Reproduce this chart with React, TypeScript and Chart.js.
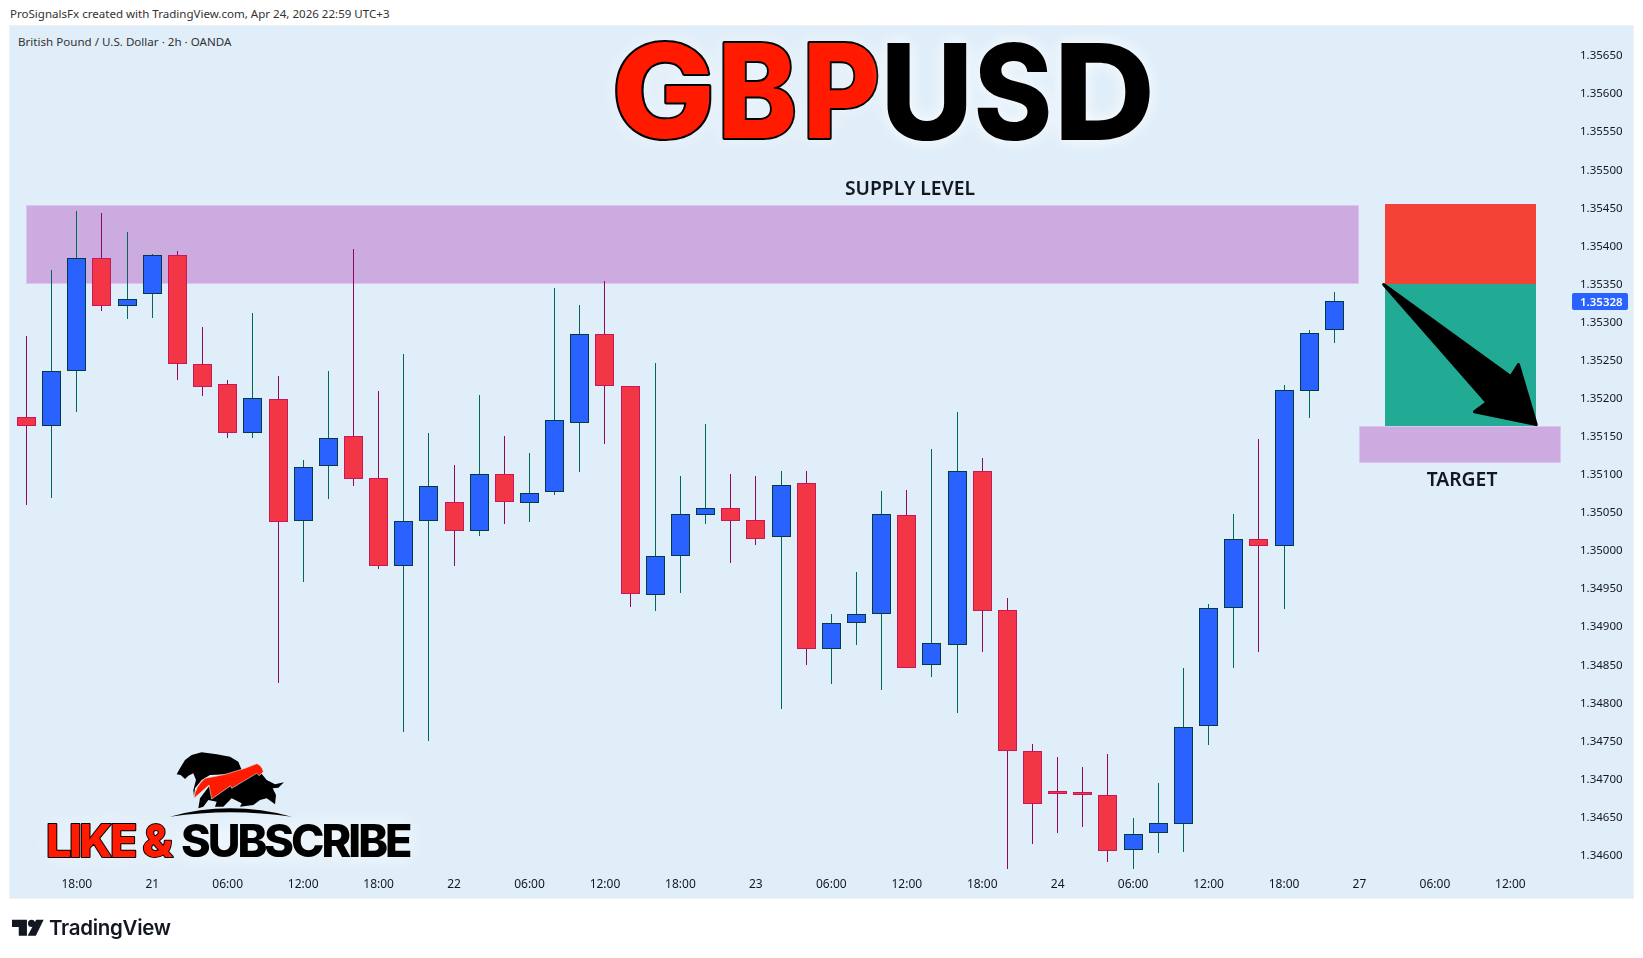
import { useEffect, useRef } from 'react'
import { Chart, registerables } from 'chart.js'
Chart.register(...registerables)

const OPENS = [
  1.35176, 1.35164, 1.35236, 1.35385, 1.35322, 1.35337, 1.35389, 1.35246, 1.35219, 1.35155,
  1.35199, 1.35039, 1.35112, 1.35151, 1.35096, 1.34980, 1.35039, 1.35064, 1.35026, 1.35101,
  1.35063, 1.35077, 1.35168, 1.35285, 1.35217, 1.34942, 1.34993, 1.35047, 1.35056, 1.35041,
  1.35018, 1.35089, 1.34871, 1.34906, 1.34918, 1.35047, 1.34850, 1.34877, 1.35105, 1.34922,
  1.34737, 1.34685, 1.34683, 1.34680, 1.34607, 1.34630, 1.34642, 1.34770, 1.34925, 1.35016,
  1.35006, 1.35210, 1.35290,
]
const HIGHS = [
  1.35282, 1.35369, 1.35447, 1.35444, 1.35419, 1.35390, 1.35394, 1.35294, 1.35224, 1.35312,
  1.35230, 1.35119, 1.35236, 1.35397, 1.35210, 1.35259, 1.35155, 1.35113, 1.35205, 1.35151,
  1.35129, 1.35346, 1.35323, 1.35354, 1.35217, 1.35247, 1.35099, 1.35167, 1.35101, 1.35099,
  1.35105, 1.35105, 1.34917, 1.34972, 1.35079, 1.35080, 1.35134, 1.35183, 1.35122, 1.34938,
  1.34747, 1.34730, 1.34716, 1.34734, 1.34649, 1.34695, 1.34846, 1.34930, 1.35049, 1.35147,
  1.35218, 1.35290, 1.35340,
]
const LOWS = [
  1.35060, 1.35070, 1.35183, 1.35315, 1.35305, 1.35306, 1.35225, 1.35203, 1.35149, 1.35148,
  1.34827, 1.34960, 1.35068, 1.35086, 1.34976, 1.34762, 1.34750, 1.34980, 1.35020, 1.35035,
  1.35038, 1.35073, 1.35104, 1.35141, 1.34927, 1.34921, 1.34945, 1.35036, 1.34984, 1.35008,
  1.34792, 1.34851, 1.34826, 1.34877, 1.34818, 1.34846, 1.34835, 1.34788, 1.34868, 1.34582,
  1.34616, 1.34630, 1.34638, 1.34592, 1.34582, 1.34604, 1.34605, 1.34745, 1.34847, 1.34867,
  1.34924, 1.35175, 1.35273,
]
const CLOSES = [
  1.35164, 1.35236, 1.35385, 1.35322, 1.35331, 1.35389, 1.35246, 1.35216, 1.35155, 1.35201,
  1.35038, 1.35110, 1.35148, 1.35094, 1.34980, 1.35039, 1.35085, 1.35026, 1.35101, 1.35064,
  1.35076, 1.35172, 1.35285, 1.35217, 1.34943, 1.34993, 1.35049, 1.35056, 1.35040, 1.35016,
  1.35087, 1.34871, 1.34905, 1.34917, 1.35049, 1.34846, 1.34879, 1.35105, 1.34921, 1.34737,
  1.34668, 1.34681, 1.34680, 1.34606, 1.34629, 1.34643, 1.34769, 1.34925, 1.35016, 1.35006,
  1.35211, 1.35286, 1.35328,
]
const TIME_LABELS = ['18:00', '21', '06:00', '12:00', '18:00', '22', '06:00', '12:00', '18:00', '23', '06:00', '12:00', '18:00', '24', '06:00', '12:00', '18:00', '27', '06:00', '12:00']
const TIME_POSITIONS = [2, 5, 8, 11, 14, 17, 20, 23, 26, 29, 32, 35, 38, 41, 44, 47, 50, 53, 56, 59]
const LAST_PRICE = 1.35328

// zones: [first bar, last bar, top price, bottom price]
const SUPPLY_ZONE = [0, 53, 1.35454, 1.35351]
const TARGET_ZONE = [53, 61, 1.35164, 1.35116]
const RISK_BOX = [54, 60, 1.35456, 1.35351]
const REWARD_BOX = [54, 60, 1.35351, 1.35164]
const ARROW_BARS = [53.96, 59.02, 59.32, 60.03, 57.57, 58.07]
const ARROW_PRICES = [1.3535, 1.35229, 1.35245, 1.35166, 1.35183, 1.35195]

const UP = { body: '#2962ff', border: '#003b46', wick: '#00695c' }
const DOWN = { body: '#f23645', border: '#c8185a', wick: '#8e0a56' }
const FONT = '"Noto Sans", sans-serif'

const isUp = (i: number) => CLOSES[i] >= OPENS[i]
const bars = OPENS.map((_, i) => i)

const snapCandles = {
  id: 'snapCandles',
  afterDatasetsUpdate(chart: any) {
    chart.data.datasets.forEach((_: any, d: number) => {
      chart.getDatasetMeta(d).data.forEach((el: any) => {
        el.x = Math.floor(el.x) + 0.5
        el.y = Math.round(el.y)
        el.base = Math.round(el.base)
      })
    })
  },
}

const zones = {
  id: 'zones',
  beforeDatasetsDraw(chart: any) {
    const { ctx, scales: { x, y } } = chart
    const rect = (z: number[], fill: string, stroke?: string) => {
      const l = Math.round(x.getPixelForValue(z[0]))
      const r = Math.round(x.getPixelForValue(z[1]))
      const t = Math.round(y.getPixelForValue(z[2]))
      const b = Math.round(y.getPixelForValue(z[3]))
      ctx.fillStyle = fill
      ctx.fillRect(l, t, r - l, b - t)
      if (stroke) {
        ctx.strokeStyle = stroke
        ctx.lineWidth = 1
        ctx.strokeRect(l + 0.5, t + 0.5, r - l - 1, b - t - 1)
      }
    }
    ctx.save()
    rect(SUPPLY_ZONE, '#ccabe0', '#dfc3f0')
    rect(TARGET_ZONE, '#ccabe0', '#dfc3f0')
    rect(RISK_BOX, '#f44336')
    rect(REWARD_BOX, '#22ab94')
    ctx.restore()
  },
}

// each title letter gets its own left edge and width, Inter's proportions are a bit off from the original face
const drawLetters = (ctx: any, letters: string, lefts: number[], widths: number[], base: number, fill: string, stroke: boolean) => {
  letters.split('').forEach((c, i) => {
    const m = ctx.measureText(c)
    const w = m.actualBoundingBoxLeft + m.actualBoundingBoxRight
    ctx.save()
    ctx.translate(lefts[i], 0)
    ctx.scale(widths[i] / w, 1)
    ctx.shadowBlur = 16
    if (stroke) ctx.strokeText(c, m.actualBoundingBoxLeft, base)
    ctx.shadowBlur = stroke ? 0 : 16
    ctx.fillStyle = fill
    ctx.fillText(c, m.actualBoundingBoxLeft, base)
    ctx.restore()
  })
}

const overlay = {
  id: 'overlay',
  afterDraw(chart: any) {
    const { ctx, scales: { x, y } } = chart
    ctx.save()

    // arrow
    ctx.beginPath()
    ARROW_BARS.forEach((b, i) => {
      const px = x.getPixelForValue(b)
      const py = y.getPixelForValue(ARROW_PRICES[i])
      if (i) ctx.lineTo(px, py)
      else ctx.moveTo(px, py)
    })
    ctx.closePath()
    ctx.fillStyle = '#000'
    ctx.strokeStyle = '#000'
    ctx.lineWidth = 3
    ctx.lineJoin = 'round'
    ctx.fill()
    ctx.stroke()

    // zone captions
    ctx.fillStyle = '#131722'
    ctx.textAlign = 'center'
    ctx.textBaseline = 'middle'
    ctx.font = `600 19.3px ${FONT}`
    ctx.fillText('SUPPLY LEVEL', 910, 190)
    ctx.fillText('TARGET', 1462, 481)

    // last price tag
    const ly = y.getPixelForValue(LAST_PRICE)
    ctx.fillStyle = '#2962ff'
    ctx.beginPath()
    ctx.roundRect(1572, Math.round(ly) - 8, 56, 17, 2)
    ctx.fill()
    ctx.fillStyle = '#fff'
    ctx.textAlign = 'left'
    ctx.font = `600 11.5px ${FONT}`
    ctx.fillText(LAST_PRICE.toFixed(5), 1580, ly + 1)

    // big title
    ctx.textAlign = 'left'
    ctx.textBaseline = 'alphabetic'
    ctx.shadowColor = 'rgba(255,255,255,.95)'
    ctx.strokeStyle = '#000'
    ctx.lineWidth = 4
    ctx.lineJoin = 'round'
    ctx.font = '800 130px Inter, sans-serif'
    drawLetters(ctx, 'GBP', [617, 724, 809], [93, 70, 68], 138, '#ff1a00', true)
    ctx.font = '800 133px Inter, sans-serif'
    drawLetters(ctx, 'USD', [887, 977, 1061], [80, 72, 89], 140, '#000', false)

    // like & subscribe
    ctx.font = '800 45px Inter, sans-serif'
    ctx.letterSpacing = '-2.5px'
    ctx.shadowBlur = 20
    ctx.fillStyle = '#ff1a00'
    ctx.lineWidth = 2
    ctx.strokeText('LIKE &', 46, 857)
    ctx.shadowBlur = 0
    ctx.fillText('LIKE &', 46, 857)
    ctx.letterSpacing = '-3px'
    ctx.shadowBlur = 20
    ctx.fillStyle = '#000'
    ctx.fillText('SUBSCRIBE', 181, 857)
    ctx.restore()
  },
}

export default function App() {
  const ref = useRef<HTMLCanvasElement>(null)

  useEffect(() => {
    if (!ref.current) return
    const chart = new Chart(ref.current, {
      type: 'bar',
      data: {
        datasets: [
          {
            data: bars.map(i => ({ x: i, y: [LOWS[i], HIGHS[i]] })),
            backgroundColor: bars.map(i => (isUp(i) ? UP.wick : DOWN.wick)),
            barThickness: 1,
            borderWidth: 0,
            grouped: false,
            inflateAmount: 0,
            order: 2,
          },
          {
            data: bars.map(i => ({ x: i, y: [OPENS[i], CLOSES[i]] })),
            backgroundColor: bars.map(i => (isUp(i) ? UP.body : DOWN.body)),
            borderColor: bars.map(i => (isUp(i) ? UP.border : DOWN.border)),
            borderWidth: 1,
            borderSkipped: false,
            barThickness: 19,
            grouped: false,
            inflateAmount: 0,
            order: 1,
          },
        ],
      },
      options: {
        responsive: false,
        animation: false,
        devicePixelRatio: 1,
        layout: { padding: { left: 10, top: 26, right: 0, bottom: 0 } },
        plugins: { legend: { display: false }, tooltip: { enabled: false } },
        scales: {
          x: {
            type: 'linear',
            offset: false,
            min: -0.656,
            max: 61.37,
            grid: { display: false, drawTicks: false },
            border: { display: false },
            afterBuildTicks: (axis: any) => { axis.ticks = TIME_POSITIONS.map(value => ({ value })) },
            afterFit: (s: any) => { s.height = 86 },
            ticks: {
              autoSkip: false,
              maxRotation: 0,
              padding: 5,
              color: '#131722',
              font: { family: FONT, size: 12 },
              callback: (v: any) => TIME_LABELS[TIME_POSITIONS.indexOf(v)],
            },
          },
          y: {
            position: 'right',
            min: 1.345786,
            max: 1.356894,
            grid: { display: false, drawTicks: false },
            border: { display: false },
            afterFit: (s: any) => { s.width = 73 },
            ticks: {
              stepSize: 0.0005,
              includeBounds: false,
              autoSkip: false,
              padding: 10,
              color: '#131722',
              font: { family: FONT, size: 11.5 },
              callback: (v: any) => Number(v).toFixed(5),
            },
          },
        },
      },
      plugins: [snapCandles, zones, overlay],
    })
    return () => chart.destroy()
  }, [])

  return (
    <div style={{ position: 'fixed', inset: 0, background: '#fff', overflow: 'hidden', fontFamily: FONT }}>
      <div style={{ position: 'absolute', left: 10, top: 6, fontSize: 11.55, lineHeight: '16px', color: '#333', whiteSpace: 'nowrap' }}>
        ProSignalsFx created with TradingView.com, Apr 24, 2026 22:59 UTC+3
      </div>
      <div style={{ position: 'absolute', left: 10, top: 26, width: 1623, height: 872, background: '#e0eef9', boxShadow: '0 0 0 1px #eef2f5' }} />
      <div style={{ position: 'absolute', left: 18, top: 34, fontSize: 11.6, lineHeight: '16px', color: '#333', whiteSpace: 'nowrap' }}>
        British Pound / U.S. Dollar · 2h · OANDA
      </div>
      <canvas ref={ref} width={1643} height={958} style={{ position: 'absolute', left: 0, top: 0 }} />

      {/* bull & bear logo, coordinates are in 3x crop pixels */}
      <svg width={140} height={75} viewBox="0 0 420 225" style={{ position: 'absolute', left: 160, top: 745 }}>
        <path d="M50 88 L60 70 L75 45 L95 30 L125 22 L170 28 L210 35 L235 50 L245 75 L200 88 L150 90 L125 105 L105 130 L102 155 L100 135 L108 105 L100 85 L85 92 L75 102 L62 90 Z" fill="#000" />
        <path d="M150 120 L300 80 L320 105 L345 118 L372 112 L355 128 L338 130 L348 150 L345 178 L335 170 L320 160 L300 165 L280 180 L240 185 L245 175 L215 160 L190 185 L165 185 L170 170 L145 165 L130 185 L115 190 L120 160 Z" fill="#000" />
        <path d="M102 160 Q105 125 135 100 Q200 90 255 70 L290 56 Q305 60 310 80 L298 92 L290 85 L215 130 L212 122 L155 162 L147 120 Z" fill="#ff1a00" stroke="#ddd" strokeWidth="2" />
        <path d="M30 215 Q210 165 395 215 Q210 188 30 215 Z" fill="#000" />
      </svg>

      {/* TradingView footer */}
      <svg width={32} height={18} viewBox="36 688 90 50" style={{ position: 'absolute', left: 12, top: 919 }}>
        <path d="M36 690 H78 V735 H55 V710 H36 Z M104 690 H125 L103 735 H80 Z" fill="#131722" />
        <circle cx="91" cy="700" r="10" fill="#131722" />
      </svg>
      <div style={{ position: 'absolute', left: 49, top: 914, fontFamily: 'Inter, sans-serif', fontWeight: 600, fontSize: 20.5, lineHeight: '28px', color: '#131722', letterSpacing: '-0.3px' }}>
        TradingView
      </div>
    </div>
  )
}
